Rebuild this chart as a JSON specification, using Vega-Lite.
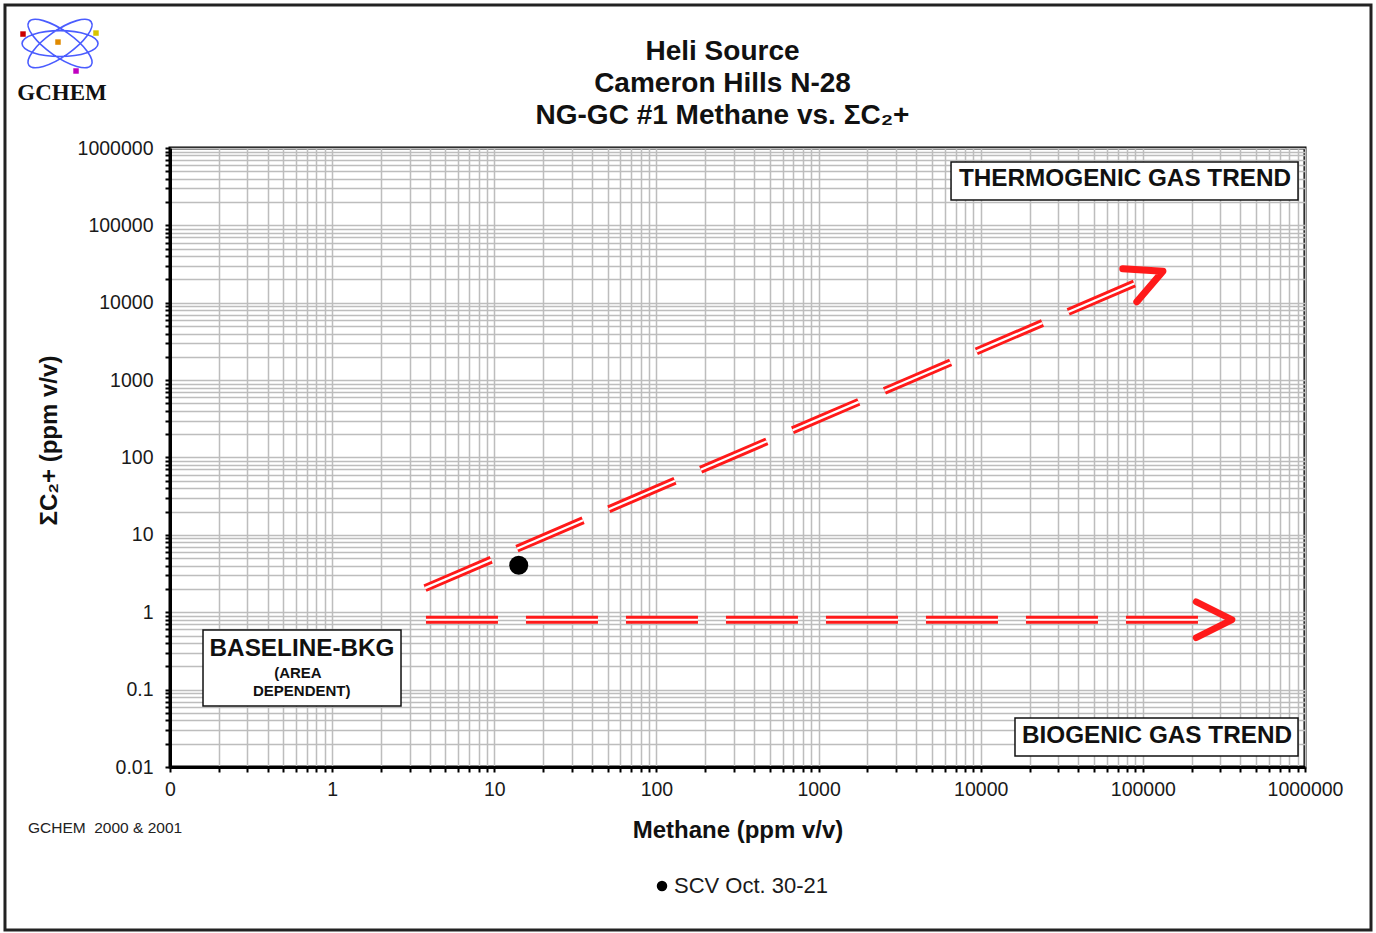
{
  "$schema": "https://vega.github.io/schema/vega-lite/v6.json",
  "width": 1135,
  "height": 619,
  "autosize": {"type": "none"},
  "padding": {"left": 170, "top": 148, "right": 71, "bottom": 166},
  "background": "white",
  "title": {
    "text": ["Heli Source", "Cameron Hills N-28", "NG-GC #1 Methane vs. ΣC₂+"],
    "font": "Liberation Sans",
    "fontSize": 28,
    "fontWeight": "bold",
    "lineHeight": 32,
    "color": "#111111",
    "anchor": "middle",
    "dx": -15,
    "offset": 0,
    "dy": 127
  },
  "config": {
    "font": "Liberation Sans",
    "view": {"stroke": "black", "strokeWidth": 3},
    "axis": {
      "domainColor": "black",
      "domainWidth": 3,
      "grid": true,
      "gridColor": "#bdbdbd",
      "gridWidth": 1.5,
      "gridOpacity": 1,
      "tickColor": "black",
      "tickSize": 5,
      "tickWidth": 2,
      "labelFont": "Liberation Sans",
      "labelFontSize": 19.5,
      "labelColor": "#1a1a1a",
      "titleFont": "Liberation Sans",
      "titleFontSize": 24,
      "titleFontWeight": "bold",
      "titleColor": "#111111",
      "labelOverlap": false,
      "labelFlush": false,
      "labelBound": false
    },
    "legend": {
      "orient": "none",
      "legendX": 481,
      "legendY": 727,
      "padding": 0,
      "symbolType": "circle",
      "symbolSize": 110,
      "symbolFillColor": "black",
      "symbolStrokeWidth": 0,
      "labelFont": "Liberation Sans",
      "labelFontSize": 22,
      "labelColor": "#1a1a1a",
      "labelOffset": 1
    }
  },
  "datasets": {
    "pts": [{"methane": 14.15, "c2": 4.04, "series": "SCV Oct. 30-21"}],
    "trends": [
      {"trend": "Thermogenic", "methane": 3.74, "c2": 2.05},
      {"trend": "Thermogenic", "methane": 89800, "c2": 17940},
      {"trend": "Biogenic", "methane": 3.79, "c2": 0.8},
      {"trend": "Biogenic", "methane": 218800, "c2": 0.8}
    ],
    "heads": [
      {"trend": "Thermogenic", "methane": 133000, "c2": 25600},
      {"trend": "Biogenic", "methane": 355000, "c2": 0.8}
    ],
    "boxes": [
      {"box": "thermo", "methane": 6561, "methane2": 905700, "c2": 659000, "c22": 212800},
      {"box": "bio", "methane": 16270, "methane2": 905700, "c2": 0.043, "c22": 0.01388},
      {"box": "base", "methane": 0.1598, "methane2": 2.659, "c2": 0.5896, "c22": 0.0614}
    ],
    "frame": [{"methane": 0.0096, "methane2": 2553000, "c2": 70500000, "c22": 0.0000782}],
    "texts": [
      {"kind": "big", "methane": 77600, "c2": 397500, "label": "THERMOGENIC GAS  TREND"},
      {"kind": "big", "methane": 122200, "c2": 0.0252, "label": "BIOGENIC GAS TREND"},
      {"kind": "big", "methane": 0.652, "c2": 0.335, "label": "BASELINE-BKG"},
      {"kind": "small", "methane": 0.615, "c2": 0.164, "label": "(AREA"},
      {"kind": "small", "methane": 0.649, "c2": 0.0959, "label": "DEPENDENT)"},
      {"kind": "logo", "methane": 0.0216, "c2": 5140000, "label": "GCHEM"},
      {"kind": "foot", "methane": 0.0133, "c2": 0.00163, "label": "GCHEM\u00a0\u00a02000 & 2001"}
    ],
    "logo": [{"methane": 0.02098, "c2": 22400000}],
    "electrons": [
      {"part": "red", "methane": 0.0124, "c2": 29700000},
      {"part": "yellow", "methane": 0.03496, "c2": 30600000},
      {"part": "magenta", "methane": 0.02633, "c2": 9890000},
      {"part": "core", "methane": 0.02038, "c2": 23400000}
    ]
  },
  "encoding": {
    "x": {
      "field": "methane",
      "type": "quantitative",
      "scale": {"type": "log", "domain": [0.1, 1000000], "nice": false},
      "axis": {
        "title": "Methane (ppm v/v)",
        "values": [0.1,0.2,0.3,0.4,0.5,0.6,0.7,0.8,0.9,1,2,3,4,5,6,7,8,9,10,20,30,40,50,60,70,80,90,100,200,300,400,500,600,700,800,900,1000,2000,3000,4000,5000,6000,7000,8000,9000,10000,20000,30000,40000,50000,60000,70000,80000,90000,100000,200000,300000,400000,500000,600000,700000,800000,900000,1000000],
        "labelExpr": "indexof([0.1,1,10,100,1000,10000,100000,1000000], datum.value) >= 0 ? (datum.value < 1 ? '0' : format(datum.value, 'd')) : ''",
        "labelPadding": 8,
        "titlePadding": 20
      }
    },
    "y": {
      "field": "c2",
      "type": "quantitative",
      "scale": {"type": "log", "domain": [0.01, 1000000], "nice": false},
      "axis": {
        "title": "ΣC₂+ (ppm v/v)",
        "values": [0.01,0.02,0.03,0.04,0.05,0.06,0.07,0.08,0.09,0.1,0.2,0.3,0.4,0.5,0.6,0.7,0.8,0.9,1,2,3,4,5,6,7,8,9,10,20,30,40,50,60,70,80,90,100,200,300,400,500,600,700,800,900,1000,2000,3000,4000,5000,6000,7000,8000,9000,10000,20000,30000,40000,50000,60000,70000,80000,90000,100000,200000,300000,400000,500000,600000,700000,800000,900000,1000000],
        "labelExpr": "indexof([0.01,0.1,1,10,100,1000,10000,100000,1000000], datum.value) >= 0 ? (datum.value < 1 ? (datum.value < 0.05 ? '0.01' : '0.1') : format(datum.value, 'd')) : ''",
        "labelPadding": 12,
        "titlePadding": 16,
        "titleY": 292
      }
    }
  },
  "layer": [
    {
      "data": {"name": "frame"},
      "mark": {"type": "rect", "filled": false, "stroke": "#222222", "strokeWidth": 3, "clip": false},
      "encoding": {"x2": {"field": "methane2"}, "y2": {"field": "c22"}}
    },
    {
      "data": {"name": "trends"},
      "mark": {"type": "line", "color": "#ff1a1a", "strokeWidth": 8, "strokeDash": [72, 28]},
      "encoding": {"detail": {"field": "trend"}}
    },
    {
      "data": {"name": "trends"},
      "mark": {"type": "line", "color": "white", "strokeWidth": 2.2, "strokeDash": [72, 28]},
      "encoding": {"detail": {"field": "trend"}}
    },
    {
      "data": {"name": "heads"},
      "transform": [{"filter": "datum.trend === 'Biogenic'"}],
      "mark": {"type": "point", "shape": "M-1,-0.5L0,0L-1,0.5", "filled": false, "stroke": "#ff1a1a", "strokeWidth": 6.5, "strokeCap": "round", "strokeJoin": "round", "size": 5184, "opacity": 1},
      "encoding": {}
    },
    {
      "data": {"name": "heads"},
      "transform": [{"filter": "datum.trend === 'Thermogenic'"}],
      "mark": {"type": "point", "shape": "M-1,-0.5L0,0L-1,0.5", "filled": false, "stroke": "#ff1a1a", "strokeWidth": 7, "strokeCap": "round", "strokeJoin": "round", "size": 5184, "angle": -23, "opacity": 1},
      "encoding": {}
    },
    {
      "data": {"name": "boxes"},
      "mark": {"type": "rect", "fill": "white", "stroke": "#111111", "strokeWidth": 1.5},
      "encoding": {"x2": {"field": "methane2"}, "y2": {"field": "c22"}}
    },
    {
      "data": {"name": "texts"},
      "transform": [{"filter": "datum.kind === 'big'"}],
      "mark": {"type": "text", "font": "Liberation Sans", "fontSize": 24.3, "fontWeight": "bold", "color": "#111111"},
      "encoding": {"text": {"field": "label"}}
    },
    {
      "data": {"name": "texts"},
      "transform": [{"filter": "datum.kind === 'small'"}],
      "mark": {"type": "text", "font": "Liberation Sans", "fontSize": 15, "fontWeight": "bold", "color": "#111111"},
      "encoding": {"text": {"field": "label"}}
    },
    {
      "data": {"name": "texts"},
      "transform": [{"filter": "datum.kind === 'logo'"}],
      "mark": {"type": "text", "font": "Liberation Serif", "fontSize": 23, "fontWeight": "bold", "color": "#111111", "clip": false},
      "encoding": {"text": {"field": "label"}}
    },
    {
      "data": {"name": "texts"},
      "transform": [{"filter": "datum.kind === 'foot'"}],
      "mark": {"type": "text", "font": "Liberation Sans", "fontSize": 15.5, "align": "left", "color": "#222222", "clip": false},
      "encoding": {"text": {"field": "label"}}
    },
    {
      "data": {"name": "logo"},
      "mark": {"type": "point", "shape": "M1,0A1,0.34,0,1,0,-1,0A1,0.34,0,1,0,1,0ZM0.819,0.574A1,0.34,35,1,0,-0.819,-0.574A1,0.34,35,1,0,0.819,0.574ZM0.819,-0.574A1,0.34,-35,1,0,-0.819,0.574A1,0.34,-35,1,0,0.819,-0.574Z", "filled": false, "stroke": "#4a5cff", "strokeWidth": 1.6, "size": 5776, "opacity": 1, "clip": false},
      "encoding": {}
    },
    {
      "data": {"name": "electrons"},
      "mark": {"type": "point", "shape": "square", "filled": true, "size": 30, "opacity": 1, "clip": false},
      "encoding": {
        "fill": {"field": "part", "type": "nominal", "scale": {"domain": ["red", "yellow", "magenta", "core"], "range": ["#cc0000", "#d8c400", "#c000c0", "#e08a00"]}, "legend": null}
      }
    },
    {
      "data": {"name": "pts"},
      "mark": {"type": "point", "filled": true, "shape": "circle", "size": 361, "opacity": 1},
      "encoding": {
        "color": {"field": "series", "type": "nominal", "scale": {"range": ["black"]}, "legend": {"title": null}}
      }
    }
  ]
}
